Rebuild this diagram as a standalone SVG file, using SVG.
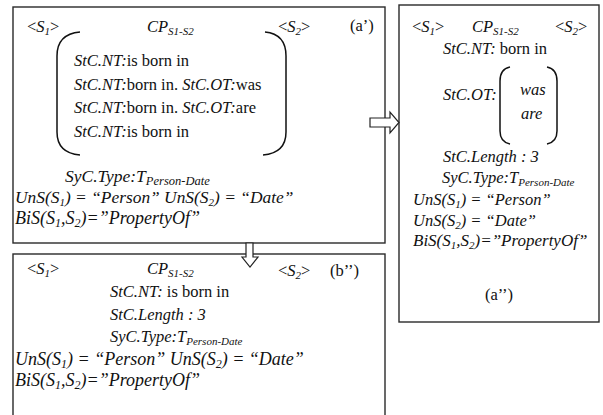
<svg xmlns="http://www.w3.org/2000/svg" width="603" height="415" viewBox="0 0 603 415">
<style>
.box{fill:#fff;stroke:#2a2a2a;stroke-width:1.4}
.br{fill:none;stroke:#111;stroke-width:1.5}
.ar{fill:#fff;stroke:#222;stroke-width:1.2}
text{font-family:"Liberation Serif","Times New Roman",serif;font-size:16.5px;fill:#111}
.i{font-style:italic}
.s{font-size:11px;font-style:italic}
.L{font-size:18px}
.L .s{font-size:12px}
</style>
<rect width="603" height="415" fill="#fff"/>
<g id="node-a1">
<rect class="box" x="13" y="7" width="372" height="236"/>
<path class="br" d="M80,32 Q57,34 57,56 L57,132 Q57,153 80,155"/>
<path class="br" d="M265,32 Q286,34 286,56 L286,132 Q286,153 263,155"/>
<text x="27" y="32">&lt;<tspan class="i">S</tspan><tspan class="s" dy="3">1</tspan><tspan dy="-3">&gt;</tspan></text>
<text x="147" y="32"><tspan class="i">CP</tspan><tspan class="s" dy="3">S1-S2</tspan></text>
<text x="278" y="32">&lt;<tspan class="i">S</tspan><tspan class="s" dy="3">2</tspan><tspan dy="-3">&gt;</tspan></text>
<text x="350" y="31">(a’)</text>
<text x="74" y="66"><tspan class="i">StC.NT:</tspan>is born in</text>
<text x="74" y="90"><tspan class="i">StC.NT:</tspan>born in. <tspan class="i">StC.OT:</tspan>was</text>
<text x="74" y="113"><tspan class="i">StC.NT:</tspan>born in. <tspan class="i">StC.OT:</tspan>are</text>
<text x="74" y="137"><tspan class="i">StC.NT:</tspan>is born in</text>
<text x="65" y="182" class="i" style="font-size:17.5px">SyC.Type:T<tspan class="s" dy="3" style="font-size:12.5px">Person-Date</tspan></text>
<text x="15" y="203" class="i" style="font-size:17.4px">UnS(S<tspan class="s" dy="3">1</tspan><tspan dy="-3">) = “Person” UnS(S</tspan><tspan class="s" dy="3">2</tspan><tspan dy="-3">) = “Date”</tspan></text>
<text x="15" y="224" class="i L">BiS(S<tspan class="s" dy="3">1</tspan><tspan dy="-3">,S</tspan><tspan class="s" dy="3">2</tspan><tspan dy="-3">)=”PropertyOf”</tspan></text>
</g>
<g id="node-a2">
<rect class="box" x="399" y="5" width="200" height="317"/>
<path class="br" d="M510,67 Q500,69 500,81 L500,131 Q500,142 510,144"/>
<path class="br" d="M547,67 Q557,69 557,81 L557,131 Q557,142 547,144"/>
<text x="412" y="32">&lt;<tspan class="i">S</tspan><tspan class="s" dy="3">1</tspan><tspan dy="-3">&gt;</tspan></text>
<text x="472" y="32"><tspan class="i">CP</tspan><tspan class="s" dy="3">S1-S2</tspan></text>
<text x="555" y="32">&lt;<tspan class="i">S</tspan><tspan class="s" dy="3">2</tspan><tspan dy="-3">&gt;</tspan></text>
<text x="443" y="54"><tspan class="i">StC.NT:</tspan> born in</text>
<text x="443" y="100" class="i">StC.OT:</text>
<text x="520" y="95" class="i">was</text>
<text x="521" y="119" class="i">are</text>
<text x="443" y="162" class="i">StC.Length : 3</text>
<text x="442" y="183" class="i">SyC.Type:T<tspan class="s" dy="3">Person-Date</tspan></text>
<text x="413" y="205" class="i">UnS(S<tspan class="s" dy="3">1</tspan><tspan dy="-3">) = “Person”</tspan></text>
<text x="413" y="226" class="i">UnS(S<tspan class="s" dy="3">2</tspan><tspan dy="-3">) = “Date”</tspan></text>
<text x="413" y="246" class="i" style="font-size:17px">BiS(S<tspan class="s" dy="3">1</tspan><tspan dy="-3">,S</tspan><tspan class="s" dy="3">2</tspan><tspan dy="-3">)=”PropertyOf”</tspan></text>
<text x="485" y="300">(a’’)</text>
</g>
<g id="node-b2">
<rect class="box" x="13" y="254" width="372" height="170"/>
<text x="27" y="274">&lt;<tspan class="i">S</tspan><tspan class="s" dy="3">1</tspan><tspan dy="-3">&gt;</tspan></text>
<text x="147" y="274"><tspan class="i">CP</tspan><tspan class="s" dy="3">S1-S2</tspan></text>
<text x="278" y="276">&lt;<tspan class="i">S</tspan><tspan class="s" dy="3">2</tspan><tspan dy="-3">&gt;</tspan></text>
<text x="330" y="276">(b’’)</text>
<text x="110" y="297"><tspan class="i">StC.NT:</tspan> is born in</text>
<text x="110" y="320" class="i">StC.Length : 3</text>
<text x="110" y="342" class="i">SyC.Type:T<tspan class="s" dy="3">Person-Date</tspan></text>
<text x="15" y="365" class="i L">UnS(S<tspan class="s" dy="3">1</tspan><tspan dy="-3">) = “Person” UnS(S</tspan><tspan class="s" dy="3">2</tspan><tspan dy="-3">) = “Date”</tspan></text>
<text x="15" y="386" class="i L">BiS(S<tspan class="s" dy="3">1</tspan><tspan dy="-3">,S</tspan><tspan class="s" dy="3">2</tspan><tspan dy="-3">)=”PropertyOf”</tspan></text>
</g>
<g id="connectors">
<polygon class="ar" points="370,118 390,118 390,112 399,122.5 390,133 390,127 370,127"/>
<polygon class="ar" points="246,243 253,243 253,257 258,257 250,267 242,257 246,257"/>
</g>
</svg>
